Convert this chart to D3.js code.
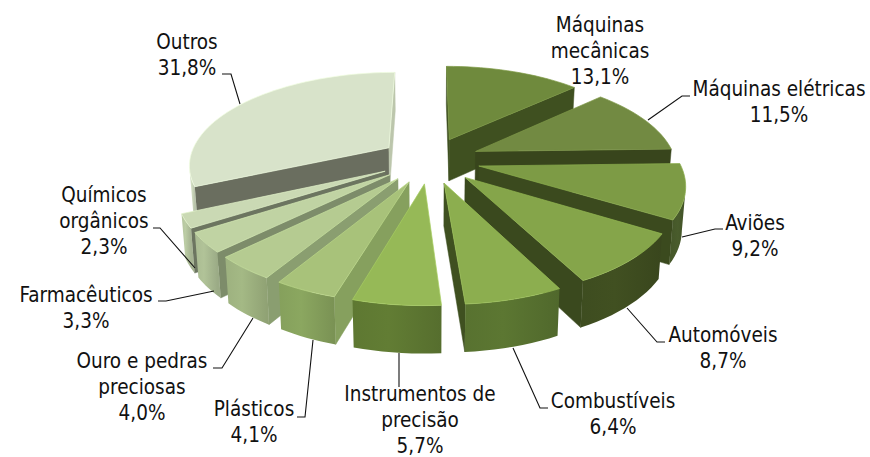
<!DOCTYPE html>
<html><head><meta charset="utf-8">
<script src="https://cdn.jsdelivr.net/npm/d3@7/dist/d3.min.js"></script>
<style>html,body{margin:0;background:#fff}svg{display:block}text{font-family:"DejaVu Sans Condensed","DejaVu Sans",sans-serif;font-size:20.5px;fill:#111;text-anchor:middle;font-stretch:condensed}</style>
</head><body><svg id="c" width="870" height="457"></svg>
<script>
// data
const categories = ["Máquinas mecânicas","Máquinas elétricas","Aviões","Automóveis","Combustíveis","Instrumentos de precisão","Plásticos","Ouro e pedras preciosas","Farmacêuticos","Químicos orgânicos","Outros"];
const values = [13.1,11.5,9.2,8.7,6.4,5.7,4.1,4.0,3.3,2.3,31.8];
const valueLabels = ["13,1%","11,5%","9,2%","8,7%","6,4%","5,7%","4,1%","4,0%","3,3%","2,3%","31,8%"];
// styles
const topColors  = ["#6f8a3d","#728a42","#7d9b45","#85a54a","#8cae4f","#96b957","#a8c27a","#b5cb91","#c0d3a3","#cad9b4","#d8e3ca"];
const cutColors  = ["#3f5020","#38451c","#3b4a1e","#3a491e","#3f5020","#5e7832","#86a05e","#8a9e70","#7d8c6a","#6c7560","#6a6e5f"];
const cutEndColors = ["#3f5020","#38451c","#3b4a1e","#3a491e","#3f5020","#5e7832","#86a05e","#8a9e70","#7d8c6a","#6c7560","#bcc6ac"];
const rimColors  = ["#4a5d25","#4a5d25","#46582a","#3e4d20","#587230","#5e7832","#85a05c","#9db17f","#aabb92","#b4c49e","#c9d5ba"];
// label layout: wrapped lines, centre x, first baseline, leader polyline
const labelLines = [["Máquinas","mecânicas"],["Máquinas elétricas"],["Aviões"],["Automóveis"],["Combustíveis"],["Instrumentos de","precisão"],["Plásticos"],["Ouro e pedras","preciosas"],["Farmacêuticos"],["Químicos","orgânicos"],["Outros"]];
const labelX = [600,779,755,723,613,420,254,142,86,104,187];
const labelY = [32,96,230,342,408,401,416,368,302,202,49];
const leaders = [[],
 [[690,96],[682,96],[648,120]],
 [[723,229],[715,229],[682,237]],
 [[665,342],[657,342],[627,308]],
 [[548,408],[540,408],[513,348]],
 [[399,353],[399,387]],
 [[313,340],[305,417],[297,417]],
 [[253,318],[222,368],[213,368]],
 [[214,291],[166,301],[158,301]],
 [[195,268],[160,228],[153,228]],
 [[222,74],[231,74],[240,104]]];

const cx=430, cy=160, Rx=200, Ry=92, persp=.169, explode=.25, depth=42, depthPow=.56, lean=.015;
const sx=d3.scaleLinear().domain([-1,1]).range([cx-Rx,cx+Rx]);
const sy=d3.scaleLinear().domain([-1,1]).range([cy-Ry,cy+Ry]);
function project(u,v){const s=1/(1-persp*v);return {x:sx(u*s),y:sy(v*s),s};}
function drop(p){return {x:cx+(p.x-cx)*(1-lean),y:p.y+depth*Math.pow(p.s,depthPow)};}
const svg=d3.select("#c");
const defs=svg.append("defs");
const line=d3.line().x(d=>d.x).y(d=>d.y);
const arcs=d3.pie().sort(null).value(d=>d)(values).map((a,i)=>({...a,i,mid:(a.startAngle+a.endAngle)/2}));
arcs.sort((a,b)=>(-Math.cos(a.mid))-(-Math.cos(b.mid)));
for(const a of arcs){
  const ox=explode*Math.sin(a.mid), oy=-explode*Math.cos(a.mid);
  const apex=project(ox,oy);
  const n=Math.max(8,Math.round((a.endAngle-a.startAngle)*24));
  const rim=d3.range(n+1).map(k=>{const t=a.startAngle+(a.endAngle-a.startAngle)*k/n;return project(ox+Math.sin(t),oy-Math.cos(t));});
  const g=svg.append("g");
  const outline=[apex,...rim];
  // cut walls
  [[apex,rim[0],cutColors[a.i]],[rim[n],apex,cutEndColors[a.i]]].forEach(([p,q,col])=>{
    if(q.x<p.x){g.append("path").attr("d",line([p,q,drop(q),drop(p)])+"Z").attr("fill",col).attr("stroke",col).attr("stroke-width",.5);}
  });
  // outer wall: only the run of rim segments facing the viewer
  const run=[];
  for(let k=0;k<n;k++){ if(rim[k+1].x<rim[k].x){ if(!run.length) run.push(rim[k]); run.push(rim[k+1]); } }
  if(run.length){
    const id="rg"+a.i, c=d3.color(rimColors[a.i]);
    const gr=defs.append("linearGradient").attr("id",id).attr("gradientUnits","userSpaceOnUse")
      .attr("x1",run[0].x).attr("x2",run[run.length-1].x).attr("y1",0).attr("y2",0);
    gr.append("stop").attr("offset",0).attr("stop-color",c.darker(.25));
    gr.append("stop").attr("offset",.6).attr("stop-color",c.brighter(.12));
    gr.append("stop").attr("offset",1).attr("stop-color",c);
    g.append("path").attr("d",line([...run,...run.map(drop).reverse()])+"Z").attr("fill",`url(#${id})`);
  }
  g.append("path").attr("d",line(outline)+"Z").attr("fill",topColors[a.i]).attr("stroke",d3.color(topColors[a.i]).brighter(.3)).attr("stroke-width",.7);
}
// leaders
leaders.forEach(l=>{ if(l.length) svg.append("path").attr("d",d3.line()(l)).attr("fill","none").attr("stroke","#111").attr("stroke-width",1.1); });
// labels
categories.forEach((c,i)=>{
  const t=svg.append("text").attr("x",labelX[i]).attr("y",labelY[i]);
  [...labelLines[i],valueLabels[i]].forEach((s,k)=>t.append("tspan").attr("x",labelX[i]).attr("dy",k?26:0).text(s));
});
</script></body></html>
